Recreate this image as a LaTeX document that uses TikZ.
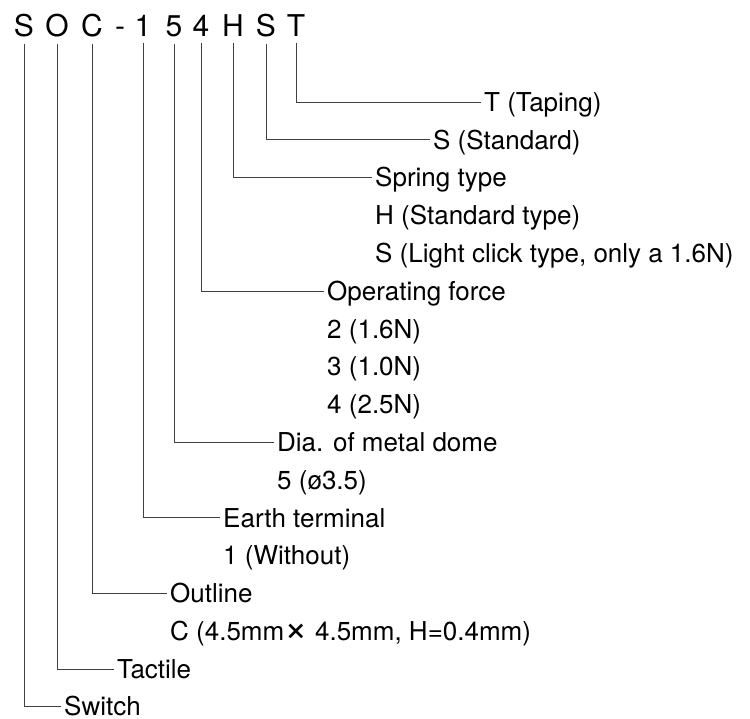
\documentclass[tikz,border=0pt]{standalone}
\usepackage{fontspec}
\setmainfont{TeX Gyre Heros}
\newcommand{\bigtimes}{\raisebox{-1.2pt}{\scalebox{1.55}{×}}}
\begin{document}
\begin{tikzpicture}[x=1pt,y=-1pt,
  code/.style={anchor=base,inner sep=0pt,font=\fontsize{30}{34}\selectfont},
  lab/.style={anchor=west,inner ysep=0pt,inner xsep=3pt,text height=18.7pt,text depth=0pt,font=\fontsize{26}{30}\selectfont},
  lead/.style={draw=black!75,line width=0.9pt}]
\useasboundingbox (0,0) rectangle (750,718);
% part number letters
\node[code] (cS)  at (24,36)  {S};
\node[code] (cO)  at (57,36)  {O};
\node[code] (cC)  at (92,36)  {C};
\node[code] (cD)  at (120,36) {-};
\node[code] (c1)  at (143,36) {1};
\node[code] (c5)  at (174,36) {5};
\node[code] (c4)  at (201,36) {4};
\node[code] (cH)  at (233,36) {H};
\node[code] (cS2) at (266,36) {S};
\node[code] (cT)  at (296,36) {T};
% labels
\node[lab] (lT)   at (481,102)   {T (Taping)};
\node[lab] (lS)   at (430,139.8) {S (Standard)};
\node[lab] (lSp)  at (372,177.6) {Spring type};
\node[lab] (lSp1) at (372,215.4) {H (Standard type)};
\node[lab] (lSp2) at (372,253.2) {S (Light click type, only a 1.6N)};
\node[lab] (lOp)  at (324,291)   {Operating force};
\node[lab] (lOp1) at (324,328.8) {2 (1.6N)};
\node[lab] (lOp2) at (324,366.6) {3 (1.0N)};
\node[lab] (lOp3) at (324,404.4) {4 (2.5N)};
\node[lab] (lDi)  at (274,442.2) {Dia. of metal dome};
\node[lab] (lDi1) at (274,480)   {5 (ø3.5)};
\node[lab] (lEa)  at (220,517.8) {Earth terminal};
\node[lab] (lEa1) at (220,555.6) {1 (Without)};
\node[lab] (lOu)  at (167,593.4) {Outline};
\node[lab] (lOu1) at (167,631.2) {C (4.5mm\bigtimes{} 4.5mm, H=0.4mm)};
\node[lab] (lTa)  at (114,669)   {Tactile};
\node[lab] (lSw)  at (61,706.4)  {Switch};
% leaders
\draw[lead] ([yshift=-7pt]cT.south)  |- (lT.west);
\draw[lead] ([yshift=-7pt]cS2.south) |- (lS.west);
\draw[lead] ([yshift=-7pt]cH.south)  |- (lSp.west);
\draw[lead] ([yshift=-7pt]c4.south)  |- (lOp.west);
\draw[lead] ([yshift=-7pt]c5.south)  |- (lDi.west);
\draw[lead] ([yshift=-7pt]c1.south)  |- (lEa.west);
\draw[lead] ([yshift=-7pt]cC.south)  |- (lOu.west);
\draw[lead] ([yshift=-7pt]cO.south)  |- (lTa.west);
\draw[lead] ([yshift=-7pt]cS.south)  |- (lSw.west);
\end{tikzpicture}
\end{document}
